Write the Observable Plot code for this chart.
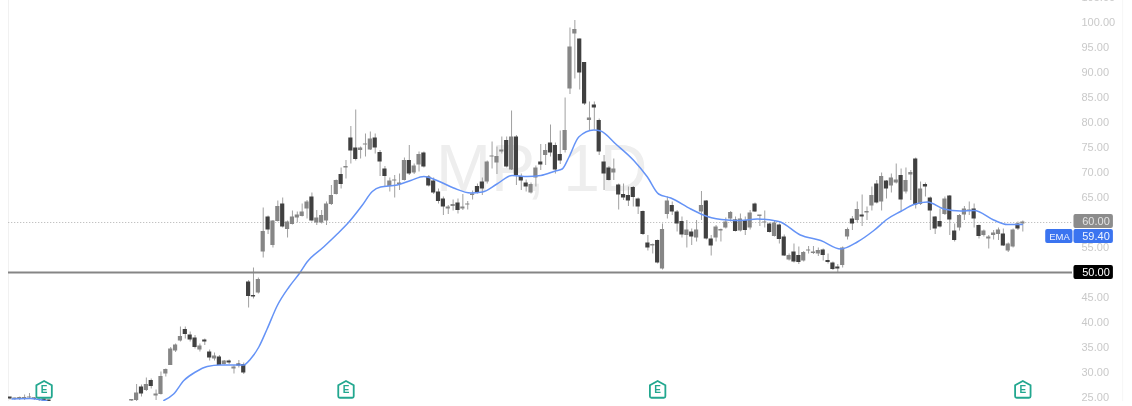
<!DOCTYPE html>
<html><head><meta charset="utf-8">
<script src="https://cdn.jsdelivr.net/npm/d3@7"></script>
<script src="https://cdn.jsdelivr.net/npm/@observablehq/plot@0.6"></script>
<style>html,body{margin:0;padding:0;background:#fff}svg{display:block;filter:blur(.6px)}</style>
</head><body><div id="c"></div>
<script>
// Candle slots: first run near 25, then the run that re-enters the visible range
const slots = [...d3.range(0,9), ...d3.range(25,209)];
const open = [24.9,24.6,24.6,24.7,24.9,24.7,24.6,24.5,24.3,
24.3,24.4,27.1,26.4,28.4,25.3,25.6,29.7,31.4,34.3,36.3,38.6,37.5,36.9,34.5,36.3,34.1,32.7,33.1,31.6,32.3,30.7,31.5,31.6,48.1,45.4,45.9,
54.1,61.1,55.4,60.2,63.7,58.6,59.6,60.9,61.2,62.7,65.1,59.9,59.9,60.3,63.6,65.6,69.6,70.9,76.9,74.9,74.4,75.5,74.5,76.9,74,70.7,67.2,68.3,67.6,68.4,72.4,69.9,71.5,73.9,
69.1,68.3,66.1,64.7,62.7,63.2,63.9,62.7,63.5,65.4,67.2,68.1,68.1,73.1,71.9,74.1,76.4,70.5,77.1,69.2,67.9,65.9,68.9,
72.1,73.4,75.9,75.4,73.6,74.4,86.7,97.7,96.7,92,80.4,83.5,80.4,72.1,70.9,69.9,67.5,65.6,65.4,67,64.7,62.2,55.9,55.3,56.4,50.7,61.6,63.4,62.1,60.2,57.4,58.1,56.9,62.1,64.3,56.7,56.9,58.3,58.9,60.7,60.5,58.3,
60.4,58.9,63.7,61.2,59.9,59.7,57.2,59.5,57.1,52.5,54.1,53.4,52.3,54.3,53.8,53.7,54.5,52.4,51.9,50.9,51.4,57.1,60.7,60.4,61.5,61.9,63.3,67.7,64.1,68.3,67.3,67.9,69.4,66.1,69.5,72.7,63.6,67.6,64.9,61.1,60.2,61.6,65.3,58.3,58.9,61.5,62.3,62.7,59.4,57.4,56.7,57.4,57.6,57.7,54.3,55.1,59.7,59.7];
const close = [24.7,24.7,24.8,25.0,25.1,24.6,24.4,24.3,24.2,
24.4,25.9,25.7,27.6,27.2,25.7,29.2,30.6,34.7,35.5,37.2,37.6,36.5,35,35.3,36.1,32.9,33.3,31.4,32.3,31.9,31.1,31.3,29.9,45.2,45.1,48.6,
58.2,58.5,60.3,63.2,59.1,60.1,61.1,61.5,62.1,64.1,60.3,60.9,61.4,63.7,65.4,68.4,67.6,71.2,74.3,72.6,74.9,75.7,76.7,74.9,72.1,69.2,68.3,68.5,67.9,72.4,69.7,71.3,73.6,71.1,
67.3,65.9,64.2,63.1,62.9,63.4,62.4,63.1,63.7,65.7,65.9,66.7,72.1,73.3,73.2,74.5,71.1,77.1,69.4,68.3,67.1,67.6,70.9,
71.5,74.4,73.9,70.5,72.3,78.4,95.1,98.6,89.9,83.7,80.9,82.9,74.1,69.7,68.4,70.7,65.5,64.9,64.3,65,63.1,57.6,54.9,55.4,51.9,58.6,64.3,62.1,59.7,57.5,58.5,57.1,58.5,63.4,56.7,55.3,59.1,58.4,60.1,62,58.2,60.7,
58.4,61.9,62.1,61.3,60.1,58,59.9,56.6,53.3,53.4,52.1,52,54,54.5,54.1,54.4,53.4,52,50.6,50.7,54.9,58.6,59.7,62.6,61.1,62.2,65.4,63.9,69.2,66.7,68.9,68.5,64.5,68.4,70,63.5,66.7,67.1,62.3,58.7,59.1,64.7,60.5,56.4,61.4,62.7,62.5,60.7,57.2,58.3,56.9,57.9,58.5,55.3,55.7,58.5,58.7,60.1];
const high = [25,24.9,25.1,25.5,25.8,24.9,24.8,24.7,24.5,
24.5,27.6,27.5,28.9,28.7,26.5,30.1,30.7,35,35.7,39.1,39.1,38.1,37.4,35.7,36.7,34.5,33.9,33.4,32.4,32.5,31.4,32.4,31.9,48.4,50.9,48.9,
62.9,61.3,60.4,64.3,64.9,60.3,62.3,62.1,63.7,64.4,65.9,62.4,62.4,64.1,67.4,68.5,70.9,72.4,79.2,82.5,75.1,77.7,78.1,77.7,74.4,71.2,68.9,69.4,69.7,72.9,75.4,71.7,74.1,74.1,
69.4,68.9,66.7,65.1,63.4,64.5,64.7,65.6,64.2,66.3,67.7,68.9,72.3,76.1,75.1,77.1,77.1,82.3,77.4,69.7,68.5,67.9,71.3,
75.6,75.6,79.5,75.9,78.3,84.9,98.9,100.4,96.7,92,84.1,84.1,80.7,73.4,71.2,72.7,67.7,67.7,67.1,67.2,64.9,62.3,57.4,55.7,56.5,59.7,65.1,64.1,62.4,61.1,60.4,58.7,60.4,66.2,64.4,57.4,59.4,58.7,60.9,62.2,61.1,61.7,
61.1,62.4,63.9,61.4,62.3,59.9,60.4,59.7,57.5,53.7,55.7,55.1,54.2,55.2,55.2,54.9,54.7,53.7,52.1,51.6,55.1,58.9,61.2,64.1,65.5,63.1,67.1,68.4,69.9,68.4,69.7,71.7,70.7,70.9,70.4,72.9,68.1,67.9,65.1,61.2,62.7,65.1,65.4,59.7,61.6,63.2,64.1,63.7,59.5,58.5,57.4,58.4,58.9,58.7,55.9,58.7,60.1,60.3];
const low = [24.5,24.4,24.4,24.4,24.6,24.4,24.2,24,23.9,
24,24,25.1,26.2,26.7,24.4,25.5,29.1,31.4,34,36.1,36.7,36.1,34.7,34.1,35.4,32.3,32.3,31.4,31.5,31.6,29.7,30.9,29.6,42.9,44.7,45.7,
52.9,57.6,54.9,60.1,58.9,56.9,59.5,59.9,61.1,60.7,60.1,59.4,59.7,59.4,63.4,65.5,66.7,68.7,71.7,72.3,72.7,73.1,74.4,73.7,69.2,67.1,66.1,64.9,66.4,68.3,69.4,69.6,70.1,70.9,
67.1,65.6,63.7,61.4,61.6,62.3,61.7,62.4,62.5,64.5,65.7,65.4,67.7,70.7,69.6,73.7,70.9,70.4,67.4,66.4,66.1,65.7,67.1,
70.4,71.4,73.1,69.7,71.6,73.9,85.6,88.7,86.5,83.4,78.4,78.5,73.4,66.4,68.3,68.4,62.5,64.4,63.2,63.1,61.6,57.4,54.3,53.7,51.7,50.5,60.7,61.4,58.1,56.9,54.9,55.4,56.1,60.4,56.5,53.3,56.1,56.1,58.7,60.1,58.1,58.1,
57.4,58.5,62,59.2,58.9,57.9,57.1,55.7,53.2,52.3,51.9,51.6,52.1,53.7,53.6,53.2,52.3,51.7,50.4,49.9,50.9,56.5,58.4,59.9,59.2,60.4,62.3,63.7,62.3,64.7,65.9,67.7,62.1,65.7,64.4,62.7,63.4,65.1,58.4,57.6,58.9,61.4,57.4,56.1,58.3,60.4,61.4,58.9,56.7,57.1,54.7,56.5,56.4,55.2,54,54.9,58.4,58.1];

// Moving-average line, read at these candle positions
const emaAt = [0.4,4.2,7.6,null,31.6,33.6,35.7,38.1,40.5,43.2,46,48,49.4,51.1,52.8,54.9,57.3,59.5,61,64.4,67.2,69.6,72.3,74.4,76.1,79.5,82.3,85,87.7,91.1,94.6,97,100,103.1,106.2,109,112,113.4,114.8,116.8,119.9,121.3,124.4,128.1,130.9,133.2,135.7,139.8,143.2,147.3,150,153.5,157.9,162.3,166.5,170.6,174,177.4,180.2,182.9,185.6,188.4,191.8,195.2,198,202,204.8,207.9];
const emaVal = [24.7,24.8,24.3,null,24.4,25.7,28.4,30.1,31.2,31.5,31.5,31.5,32.7,35.1,38.7,43.4,47.1,49.9,52.1,55.1,57.7,60.1,63.4,66.2,67.1,67.5,68.4,69.2,68.4,66.9,65.9,66.1,67.7,69.4,69.2,69.4,70.3,70.7,73.1,77.1,78.5,78.3,75.7,72.4,69.1,65.7,64.9,62.7,61.2,60.5,60.4,60.7,60.2,57.5,56.4,54.7,56.1,58.4,60.7,62.2,63.6,64.1,62.7,62.3,62.4,60.5,59.6,59.6];

const priceTicks = [25,30,35,40,45,55,65,70,75,80,85,90,95,100,105];
const earnings = [7,69,133,208];
const watermark = "MP, 1D";
const lastPrice = 60, emaLast = 59.40, level = 50;

const candles = slots.map((s,k)=>({s,o:open[k],c:close[k],h:high[k],l:low[k]}));
const ema = emaAt.map((x,k)=>({x,y:emaVal[k]}));
const DOWN="#404040", UP="#868686", BLUE="#3b74f0";
const house = {draw(ctx,size){const r=Math.sqrt(size/Math.PI);
  const w=r*.92,t=r*1.02,s=r*.5,b=r*.98,q=r*.18;
  ctx.moveTo(0,-t);ctx.lineTo(w,-s);ctx.lineTo(w,b-q);ctx.quadraticCurveTo(w,b,w-q,b);
  ctx.lineTo(-w+q,b);ctx.quadraticCurveTo(-w,b,-w,b-q);ctx.lineTo(-w,-s);ctx.closePath();}};
const badge=(v,x1,x2,fill,dy=0)=>Plot.rect([v],{x1:()=>x1,x2:()=>x2,y1:d=>d-1.4,y2:d=>d+1.4,fill,rx:2,dy});
const label=(v,x,text,fill,dy=0,fontSize=11)=>Plot.text([v],{x:()=>x,y:d=>d,text:()=>text,fill,dy,textAnchor:"start",fontSize,fontFamily:"Liberation Sans"});

const chart = Plot.plot({
  width:1132,height:406,marginLeft:8,marginRight:60,marginTop:0,marginBottom:5,
  style:{background:"#fff",fontFamily:"Liberation Sans"},
  x:{domain:[-0.31,218.2],axis:null},
  y:{domain:[24.2,104.4],label:null},
  marks:[
    Plot.ruleX([0],{x:()=>-0.31,stroke:"#f1f1f1"}),
    Plot.ruleX([0],{x:()=>228.5,stroke:"#f6f6f6"}),
    Plot.axisY(priceTicks,{anchor:"right",tickSize:0,tickPadding:9,tickFormat:d3.format(".2f"),label:null,fill:"#c9c9c9",fontSize:11,fontFamily:"Liberation Sans"}),
    Plot.text([watermark],{x:()=>109.2,y:()=>70.5,text:d=>d,fontSize:66,fill:"#eeeeee",fontFamily:"Liberation Sans"}),
    Plot.ruleY([lastPrice],{stroke:"#c2c2c2",strokeDasharray:"1.3 1.7",strokeWidth:1}),
    Plot.ruleX(candles,{x:"s",y1:"l",y2:"h",stroke:"#a0a0a0",strokeWidth:1,clip:"frame"}),
    Plot.rect(candles,{x1:d=>d.s-.43,x2:d=>d.s+.43,y1:d=>Math.min(d.o,d.c),y2:d=>Math.max(d.o,d.c)+(Math.abs(d.o-d.c)<.2?.2:0),fill:d=>d.c<d.o?DOWN:UP,clip:"frame"}),
    Plot.line(ema,{x:"x",y:"y",defined:d=>d.x!=null,stroke:"#6593f6",strokeWidth:1.5,curve:"monotone-x",clip:"frame"}),
    Plot.ruleY([level],{stroke:"#858585",strokeWidth:2}),
    Plot.dot(earnings,{x:d=>d,y:()=>26.6,r:8.4,symbol:house,stroke:"#22a78f",strokeWidth:1.8,fill:"#fff"}),
    Plot.text(earnings,{x:d=>d,y:()=>26.6,text:()=>"E",fill:"#22a78f",fontSize:10,fontWeight:"bold",fontFamily:"Liberation Sans"}),
    badge(lastPrice,218.5,226.6,"#8c8c8c",-1),
    badge(emaLast,218.5,226.6,BLUE,11),
    badge(emaLast,212.7,218.3,BLUE,11),
    badge(level,218.5,226.6,"#000"),
    label(lastPrice,220.2,"60.00","#e4e4e4",-1),
    label(emaLast,220.2,"59.40","#eef3ff",11),
    label(emaLast,213.4,"EMA","#eef3ff",11,9.5),
    label(level,220.2,"50.00","#fff")
  ]
});
document.getElementById("c").appendChild(chart);
</script></body></html>
